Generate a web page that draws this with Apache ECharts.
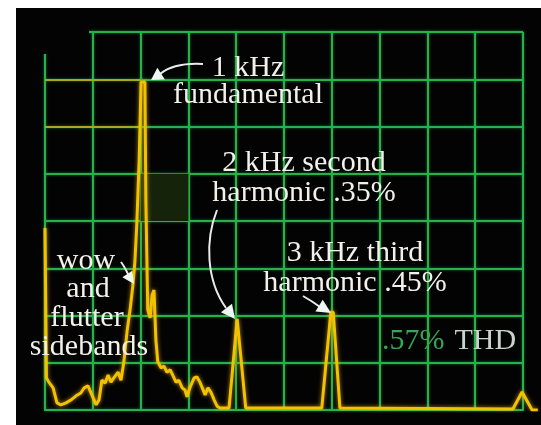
<!DOCTYPE html>
<html>
<head>
<meta charset="utf-8">
<script src="https://cdn.jsdelivr.net/npm/echarts@6/dist/echarts.min.js"></script>
<style>
  html,body{margin:0;padding:0;background:#ffffff;}
  #wrap{position:relative;width:541px;height:425px;overflow:hidden;background:#ffffff;}
  #screen{position:absolute;left:16px;top:8px;width:525px;height:417px;background:#030303;}
  #c{position:absolute;left:0;top:0;width:541px;height:425px;}
</style>
</head>
<body>
<div id="wrap"><div id="screen"></div><div id="c"></div></div>
<script>
// Horizontal divisions (0..10) and vertical divisions (0..8) of the analyzer screen
const xDivisions = [0, 10];
const yDivisions = [0, 8];

// Spectrum trace: [horizontal division, vertical division]
const traceX = [
  0.00, 0.03, 0.08, 0.17, 0.25, 0.33, 0.44, 0.54, 0.65, 0.75, 0.82, 0.90, 0.98, 1.07, 1.13,
  1.19, 1.26, 1.32, 1.38, 1.44, 1.53, 1.59, 1.65, 1.72, 1.78, 1.84, 1.88, 1.92, 1.97, 2.01,
  2.09, 2.11, 2.15, 2.20, 2.24, 2.28, 2.32, 2.36, 2.43, 2.49, 2.55, 2.62, 2.68, 2.74, 2.80,
  2.87, 2.93, 2.97, 3.03, 3.12, 3.18, 3.24, 3.31, 3.35, 3.41, 3.47, 3.54, 3.60, 3.66, 3.85,
  4.02, 4.06, 4.20, 5.79, 5.98, 6.03, 6.17, 9.79, 9.98, 10.19, 10.31
];
const traceY = [
  3.85, 0.68, 0.59, 0.47, 0.15, 0.11, 0.15, 0.21, 0.30, 0.36, 0.47, 0.51, 0.32, 0.11, 0.21,
  0.63, 0.57, 0.74, 0.59, 0.68, 0.80, 0.63, 1.02, 1.69, 2.12, 2.65, 3.13, 3.92, 5.29, 6.94,
  6.94, 4.44, 2.12, 1.95, 2.43, 2.54, 1.48, 1.02, 0.89, 0.93, 0.80, 0.85, 0.72, 0.59, 0.63,
  0.47, 0.42, 0.28, 0.47, 0.68, 0.70, 0.59, 0.42, 0.32, 0.47, 0.38, 0.21, 0.08, 0.04, 0.04,
  1.93, 1.93, 0.04, 0.04, 2.07, 2.07, 0.04, 0.02, 0.38, 0.00, 0.00
];

// Annotation texts
const labelLines = {
  fundamental: ['1 kHz', 'fundamental'],
  second: ['2 kHz second', 'harmonic .35%'],
  third: ['3 kHz third', 'harmonic .45%'],
  sidebands: ['wow', 'and', 'flutter', 'sidebands'],
  thdValue: '.57%',
  thdName: 'THD'
};

const chart = echarts.init(document.getElementById('c'), null, {renderer: 'canvas'});
const gridGreen = '#27b04c';
const traceData = traceX.map((x, i) => [x, traceY[i]]);

// layout of the screen graticule (pixels)
const G = {left: 45, right: 18, top: 32, bottom: 15, width: 541};
const plotW = G.width - G.left - G.right;
// the trace runs past the right graticule edge to the screen edge
const traceRight = 3;
const traceMax = xDivisions[1] * (G.width - G.left - traceRight) / plotW;

const FONT = '"Liberation Serif", "DejaVu Serif", serif';
const textColor = '#f2f0e8';

function textEl(str, cx, cy, size, fill) {
  return {
    type: 'text', x: cx, y: cy, z: 50,
    style: {text: str, font: size + 'px ' + FONT, fill: fill || textColor,
      align: 'center', verticalAlign: 'middle'}
  };
}
function arrowHead(tipX, tipY, fromX, fromY, len, half) {
  const dx = tipX - fromX, dy = tipY - fromY;
  const d = Math.sqrt(dx * dx + dy * dy);
  const ux = dx / d, uy = dy / d;
  const bx = tipX - ux * len, by = tipY - uy * len;
  return {
    type: 'polygon', z: 50,
    shape: {points: [[tipX, tipY], [bx - uy * half, by + ux * half], [bx + uy * half, by - ux * half]]},
    style: {fill: '#eef6f2'}
  };
}
function curve(x1, y1, cx1, cy1, cx2, cy2, x2, y2) {
  return {
    type: 'bezierCurve', z: 50,
    shape: {x1, y1, x2, y2, cpx1: cx1, cpy1: cy1, cpx2: cx2, cpy2: cy2},
    style: {stroke: '#e8ece8', lineWidth: 2, fill: null}
  };
}

const fs = 30;
const graphics = [
  // faded top-left corner of the graticule
  {type: 'rect', z: 5, shape: {x: 36, y: 24, width: 53, height: 30}, style: {fill: '#030303'}},
  textEl(labelLines.fundamental[0], 248, 68, fs),
  textEl(labelLines.fundamental[1], 248, 95, fs),
  textEl(labelLines.second[0], 304, 163, fs),
  textEl(labelLines.second[1], 304, 193, fs),
  textEl(labelLines.third[0], 355, 253, fs),
  textEl(labelLines.third[1], 355, 283, fs),
  textEl(labelLines.sidebands[0], 86, 261, fs),
  textEl(labelLines.sidebands[1], 88, 289, fs),
  textEl(labelLines.sidebands[2], 87, 318, fs),
  textEl(labelLines.sidebands[3], 89, 347, fs),
  {
    type: 'text', x: 449, y: 341, z: 50,
    style: {
      text: '{a|' + labelLines.thdValue + '}{s| }{b|' + labelLines.thdName + '}',
      align: 'center', verticalAlign: 'middle',
      rich: {
        a: {font: fs + 'px ' + FONT, fill: '#38a556'},
        s: {font: fs + 'px ' + FONT, width: 10},
        b: {font: fs + 'px ' + FONT, fill: '#c9d3cb'}
      }
    }
  },
  // arrows
  curve(203, 64, 185, 63, 170, 66, 160, 74),
  arrowHead(151, 80, 162, 73, 12, 7),
  curve(217, 210, 205, 240, 206, 280, 226, 308),
  arrowHead(235, 319, 225, 306, 14, 7),
  curve(303, 296, 310, 300, 316, 304, 320, 307),
  arrowHead(331, 313, 318, 305, 14, 7),
  curve(121, 262, 124, 266, 126, 270, 128, 274),
  arrowHead(134, 284, 126, 272, 12, 6)
];

const hiddenAxis = {
  axisLine: {show: false}, axisTick: {show: false}, axisLabel: {show: false}, splitLine: {show: false}
};
const greenSplit = {show: true, lineStyle: {color: gridGreen, width: 2, shadowBlur: 3, shadowColor: 'rgba(40,200,90,0.6)'}};

chart.setOption({
  backgroundColor: 'transparent',
  animation: false,
  grid: [
    {left: G.left, right: G.right, top: G.top, bottom: G.bottom},
    {left: G.left, right: traceRight, top: G.top, bottom: G.bottom}
  ],
  xAxis: [{
    gridIndex: 0, type: 'value', min: xDivisions[0], max: xDivisions[1], interval: 1,
    axisLine: {show: true, lineStyle: {color: gridGreen, width: 2}},
    axisTick: {show: false}, axisLabel: {show: false},
    splitLine: greenSplit
  }, Object.assign({gridIndex: 1, type: 'value', min: xDivisions[0], max: traceMax}, hiddenAxis)],
  yAxis: [{
    gridIndex: 0, type: 'value', min: yDivisions[0], max: yDivisions[1], interval: 1,
    axisLine: {show: true, lineStyle: {color: gridGreen, width: 2}},
    axisTick: {show: false}, axisLabel: {show: false},
    splitLine: greenSplit
  }, Object.assign({gridIndex: 1, type: 'value', min: yDivisions[0], max: yDivisions[1]}, hiddenAxis)],
  series: [{
    type: 'line', xAxisIndex: 0, yAxisIndex: 0, data: [], z: 3,
    markArea: {
      silent: true,
      itemStyle: {color: '#15230a'},
      data: [[{coord: [2, 4]}, {coord: [3, 5]}]]
    },
    markLine: {
      silent: true, symbol: 'none',
      lineStyle: {color: '#a9a81e', width: 2, type: 'solid'},
      label: {show: false},
      data: [
        [{coord: [0, 7]}, {coord: [2, 7]}],
        [{coord: [0, 6]}, {coord: [2, 6]}]
      ]
    }
  }, {
    type: 'line', xAxisIndex: 1, yAxisIndex: 1,
    data: traceData,
    symbol: 'none',
    z: 10,
    lineStyle: {color: '#f2c200', width: 3, shadowBlur: 4, shadowColor: 'rgba(255,190,0,0.7)'}
  }],
  graphic: graphics
});
</script>
</body>
</html>
